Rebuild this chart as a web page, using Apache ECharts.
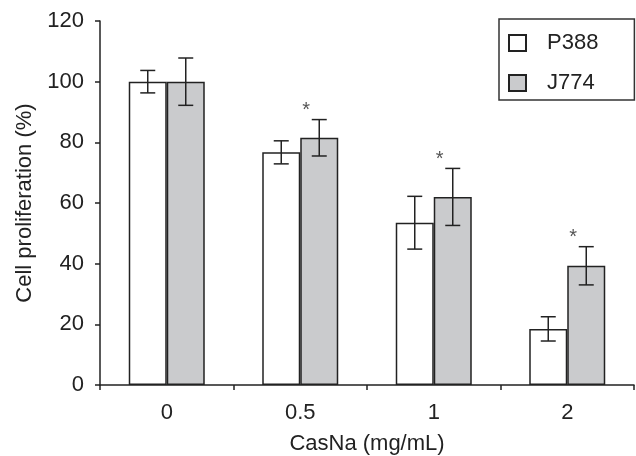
<!DOCTYPE html>
<html>
<head>
<meta charset="utf-8">
<script src="https://cdn.jsdelivr.net/npm/echarts@6/dist/echarts.min.js"></script>
<style>html,body{margin:0;padding:0;background:#fff;overflow:hidden}#c{width:636px;height:456px}</style>
</head>
<body>
<div id="c"></div>
<script>
var categories = ['0', '0.5', '1', '2'];
var p388 = [100, 76.7, 53.5, 18.5];
var p388Err = [3.7, 3.8, 8.7, 4.0];
var j774 = [100, 81.5, 62, 39.3];
var j774Err = [7.8, 6.0, 9.4, 6.3];
var significant = [false, true, true, true];
var yTicks = [0, 20, 40, 60, 80, 100, 120];

var FONT = '"Liberation Sans", Arial, sans-serif';
var INK = '#222';
var BAR_W = 38;
var FS = 22;

function errSeries(vals, errs, shift) {
  return {
    type: 'custom',
    z: 5,
    silent: true,
    data: vals.map(function (v, i) { return [i, v - errs[i], v + errs[i]]; }),
    renderItem: function (params, api) {
      var lo = api.coord([api.value(0), api.value(1)]);
      var hi = api.coord([api.value(0), api.value(2)]);
      var x = lo[0] + shift;
      var cap = 7.5;
      var st = { stroke: INK, lineWidth: 1.5 };
      return {
        type: 'group',
        children: [
          { type: 'line', shape: { x1: x, y1: lo[1], x2: x, y2: hi[1] }, style: st },
          { type: 'line', shape: { x1: x - cap, y1: lo[1], x2: x + cap, y2: lo[1] }, style: st },
          { type: 'line', shape: { x1: x - cap, y1: hi[1], x2: x + cap, y2: hi[1] }, style: st }
        ]
      };
    }
  };
}

var starData = [];
significant.forEach(function (s, i) { if (s) starData.push([i, j774[i] + j774Err[i]]); });

var option = {
  animation: false,
  backgroundColor: '#fff',
  grid: { left: 100, right: 2, top: 21, bottom: 71, containLabel: false, outerBoundsMode: 'none' },
  legend: {
    orient: 'vertical',
    left: 499,
    top: 19,
    padding: [13, 36, 6, 9],
    itemGap: 18,
    itemWidth: 17,
    itemHeight: 16,
    icon: 'rect',
    borderColor: '#333',
    borderWidth: 1.5,
    borderRadius: 0,
    textStyle: { fontFamily: FONT, fontSize: FS, color: INK, lineHeight: 20, padding: [0, 0, 0, 16] },
    data: ['P388', 'J774']
  },
  xAxis: {
    type: 'category',
    data: categories,
    boundaryGap: true,
    name: 'CasNa (mg/mL)',
    nameLocation: 'middle',
    nameGap: 48,
    nameTextStyle: { fontFamily: FONT, fontSize: FS, color: INK },
    axisLine: { lineStyle: { color: INK, width: 1.5 } },
    axisTick: { show: true, inside: false, length: 5, alignWithLabel: false, lineStyle: { color: INK, width: 1.5 } },
    axisLabel: { fontFamily: FONT, fontSize: FS, color: INK, margin: 17 },
    splitLine: { show: false }
  },
  yAxis: {
    type: 'value',
    min: yTicks[0],
    max: yTicks[yTicks.length - 1],
    interval: yTicks[1] - yTicks[0],
    name: 'Cell proliferation (%)',
    nameLocation: 'middle',
    nameGap: 56,
    nameRotate: 90,
    nameTextStyle: { fontFamily: FONT, fontSize: FS, color: INK },
    axisLine: { show: true, lineStyle: { color: INK, width: 1.5 } },
    axisTick: { show: true, inside: false, length: 5, lineStyle: { color: INK, width: 1.5 } },
    axisLabel: { fontFamily: FONT, fontSize: FS, color: INK, margin: 16 },
    splitLine: { show: false }
  },
  series: [
    {
      name: 'P388', type: 'bar', data: p388, barWidth: BAR_W, barGap: '0%',
      itemStyle: { color: '#ffffff', borderColor: INK, borderWidth: 1.5 }
    },
    {
      name: 'J774', type: 'bar', data: j774, barWidth: BAR_W, barGap: '0%',
      itemStyle: { color: '#cacbcd', borderColor: INK, borderWidth: 1.5 }
    },
    errSeries(p388, p388Err, -BAR_W / 2),
    errSeries(j774, j774Err, BAR_W / 2),
    {
      type: 'custom',
      z: 6,
      silent: true,
      data: starData,
      renderItem: function (params, api) {
        var p = api.coord([api.value(0), api.value(1)]);
        return {
          type: 'text',
          x: p[0] + 6,
          y: p[1] - 9,
          style: { text: '*', fill: '#555', font: '20px ' + FONT, align: 'center', verticalAlign: 'middle' }
        };
      }
    }
  ]
};

var chart = echarts.init(document.getElementById('c'), null, { renderer: 'canvas' });
chart.setOption(option);
</script>
</body>
</html>
